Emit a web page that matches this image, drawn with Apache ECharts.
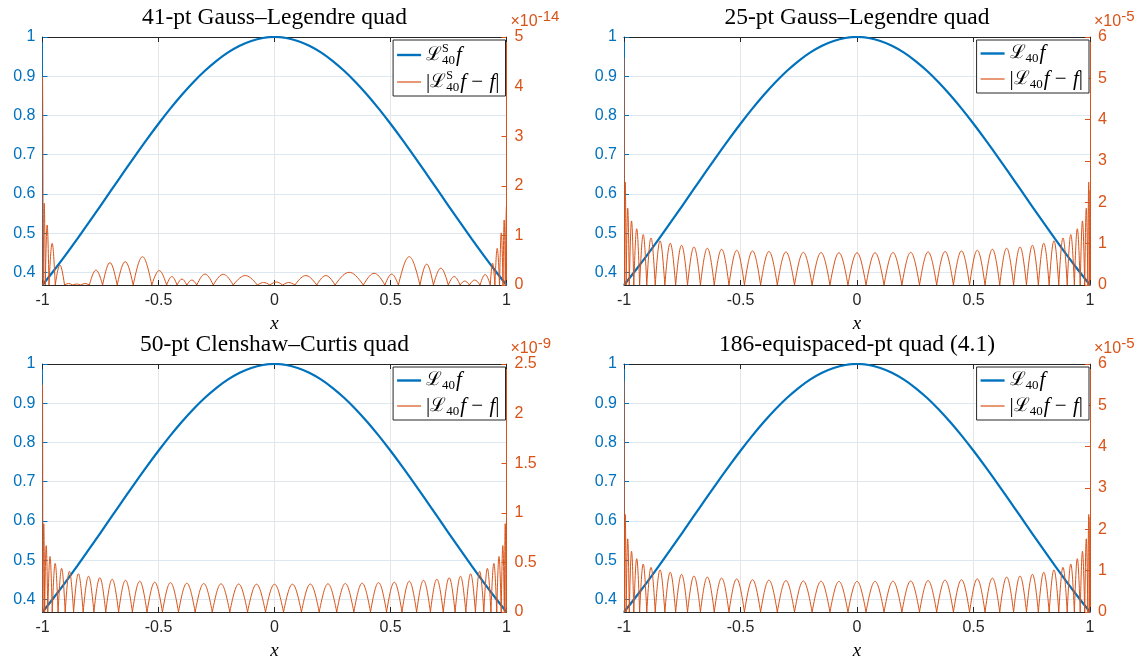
<!DOCTYPE html>
<html><head><meta charset="utf-8">
<script src="https://cdn.jsdelivr.net/npm/echarts@6/dist/echarts.min.js"></script>
<style>html,body{margin:0;padding:0;background:#fff}#c{width:1141px;height:661px}</style>
</head><body><div id="c"></div>
<script>
// ---------------- data ----------------
const xs = [-1,-0.95,-0.9,-0.85,-0.8,-0.75,-0.7,-0.65,-0.6,-0.55,-0.5,-0.45,-0.4,-0.35,-0.3,-0.25,-0.2,-0.15,-0.1,-0.05,0,
            0.05,0.1,0.15,0.2,0.25,0.3,0.35,0.4,0.45,0.5,0.55,0.6,0.65,0.7,0.75,0.8,0.85,0.9,0.95,1];
const fVals = [0.3679,0.4056,0.4449,0.4855,0.5273,0.5698,0.6126,0.6554,0.6977,0.7390,0.7788,0.8167,0.8521,0.8847,0.9139,0.9394,0.9608,0.9778,0.9900,0.9975,1.0000,
               0.9975,0.9900,0.9778,0.9608,0.9394,0.9139,0.8847,0.8521,0.8167,0.7788,0.7390,0.6977,0.6554,0.6126,0.5698,0.5273,0.4855,0.4449,0.4056,0.3679];

const titles = ['41-pt Gauss\u2013Legendre quad','25-pt Gauss\u2013Legendre quad','50-pt Clenshaw\u2013Curtis quad','186-equispaced-pt quad (4.1)'];
const xTickStep = 0.5;
const rightMax = [5, 6, 2.5, 6];
const rightStep = [1, 1, 0.5, 1];
const rightExp = ['-14', '-5', '-9', '-5'];

// zero crossings of the error curve (panel 1, round-off pattern)
const tlNodes = [-0.997,-0.988,-0.972,-0.945,-0.905,-0.87,-0.835,-0.798,-0.741,-0.678,-0.609,-0.529,-0.465,-0.42,-0.378,-0.335,-0.264,-0.178,-0.074,-0.02,
                 0.035,0.088,0.182,0.261,0.383,0.476,0.534,0.627,0.685,0.749,0.80,0.84,0.886,0.93,0.95,0.97,0.985,0.995];
const tlPeaks = [1.65,1.21,0.84,0.40,0.03,0.02,0.03,0.30,0.45,0.47,0.57,0.29,0.17,0.12,0.10,0.22,0.215,0.19,0.05,0.06,
                 0.05,0.19,0.19,0.255,0.235,0.22,0.57,0.42,0.34,0.17,0.08,0.10,0.21,0.44,0.74,1.05,1.31];
const tlEnds = [4.2, 1.6];

// zero crossings of the error curve (panels 2-4)
const nodes40 = [-0.9983,-0.9908,-0.9773,-0.9580,-0.9329,-0.9022,-0.8660,-0.8247,-0.7784,-0.7274,-0.6720,-0.6126,-0.5495,-0.4831,-0.4138,-0.3420,-0.2682,-0.1927,-0.1161,-0.0388,
                 0.0388,0.1161,0.1927,0.2682,0.3420,0.4138,0.4831,0.5495,0.6126,0.6720,0.7274,0.7784,0.8247,0.8660,0.9022,0.9329,0.9580,0.9773,0.9908,0.9983];
const trPeaks = [2.49,1.86,1.55,1.36,1.22,1.14,1.07,1.01,0.96,0.92,0.89,0.865,0.84,0.825,0.81,0.80,0.79,0.785,0.78,0.78,
                 0.78,0.785,0.79,0.80,0.81,0.825,0.84,0.865,0.89,0.92,0.96,1.01,1.07,1.14,1.22,1.36,1.55,1.86,2.49];
const trEnds = [5.5, 2.3];
const blPeaks = [0.89,0.67,0.56,0.49,0.44,0.41,0.385,0.36,0.345,0.33,0.32,0.31,0.30,0.296,0.29,0.287,0.284,0.282,0.28,0.28,
                 0.28,0.282,0.284,0.287,0.29,0.296,0.30,0.31,0.32,0.33,0.345,0.36,0.385,0.41,0.44,0.49,0.56,0.67,0.89];
const blEnds = [2.29, 0.95];
const brPeaks = [2.36,1.77,1.47,1.29,1.16,1.08,1.02,0.96,0.91,0.87,0.845,0.82,0.80,0.78,0.77,0.76,0.75,0.745,0.74,0.74,
                 0.74,0.745,0.75,0.76,0.77,0.78,0.80,0.82,0.845,0.87,0.91,0.96,1.02,1.08,1.16,1.29,1.47,1.77,2.36];
const brEnds = [5.6, 2.3];

const seriesNames = [['LSf','LSerr'],['Lf','Lerr'],['Lf','Lerr'],['Lf','Lerr']];
const legendText = {
  LSf: '{L|\u2112}{S|S}{n|40}{f|f}',
  LSerr: '{t||}{L|\u2112}{S|S}{n|40}{f|f}{t| \u2212 }{f|f}{t||}',
  Lf: '{L|\u2112}{n|40}{f|f}',
  Lerr: '{t||}{L|\u2112}{n|40}{f|f}{t| \u2212 }{f|f}{t||}'
};

// ---------------- build ----------------
const BLUE = '#0072BD', ORANGE = '#D95319', DARK = '#262626';
function arches(nodes, peaks, ends) {
  const b = [-1, ...nodes, 1];
  const out = [[b[0], b[1], ends[0], 1]];
  for (let k = 0; k < peaks.length; k++) out.push([b[k + 1], b[k + 2], peaks[k], 0]);
  out.push([b[b.length - 2], b[b.length - 1], ends[1], 2]);
  return out;
}
const errData = [arches(tlNodes, tlPeaks, tlEnds), arches(nodes40, trPeaks, trEnds),
                 arches(nodes40, blPeaks, blEnds), arches(nodes40, brPeaks, brEnds)];

function renderArch(params, api) {
  const x0 = api.value(0), x1 = api.value(1), h = api.value(2), kind = api.value(3);
  const a = api.coord([x0, 0]), b = api.coord([x1, 0]), t = api.coord([x0, h]);
  const w = b[0] - a[0], y0 = a[1], H = y0 - t[1];
  let d;
  if (kind === 0) {
    const cy = y0 - H * 4 / 3;
    d = 'M' + a[0] + ',' + y0 + 'C' + (a[0] + 0.4244 * w) + ',' + cy + ' ' + (a[0] + 0.5756 * w) + ',' + cy + ' ' + b[0] + ',' + y0;
  } else if (kind === 1) {
    d = 'M' + a[0] + ',' + t[1] + 'C' + (a[0] + 0.352 * w) + ',' + t[1] + ' ' + (a[0] + 0.648 * w) + ',' + (y0 - 0.553 * H) + ' ' + b[0] + ',' + y0;
  } else {
    d = 'M' + a[0] + ',' + y0 + 'C' + (a[0] + 0.352 * w) + ',' + (y0 - 0.553 * H) + ' ' + (a[0] + 0.648 * w) + ',' + t[1] + ' ' + b[0] + ',' + t[1];
  }
  return { type: 'path', shape: { pathData: d }, style: { stroke: ORANGE, fill: 'none', lineWidth: 1 } };
}

const grids = [
  { left: 42.5, top: 37, width: 464, height: 248 },
  { left: 624, top: 37, width: 466, height: 248 },
  { left: 42.5, top: 364, width: 464, height: 249 },
  { left: 624, top: 364, width: 466, height: 249 }
];
const titleSize = 23.5;
const mctx = document.createElement('canvas').getContext('2d');
mctx.font = titleSize + 'px "Liberation Serif"';

const option = { animation: false, backgroundColor: '#fff', grid: grids, xAxis: [], yAxis: [], series: [], title: [], legend: [] };
const lblFont = 'Liberation Sans';
for (let i = 0; i < 4; i++) {
  const g = grids[i];
  const cx = g.left + g.width / 2;
  const tw = mctx.measureText(titles[i]).width;
  option.title.push({ text: titles[i], left: cx - tw / 2, top: g.top - 31, padding: 0,
    textStyle: { fontFamily: 'Liberation Serif', fontSize: titleSize, fontWeight: 'normal', color: '#000' } });
  option.xAxis.push({ type: 'value', gridIndex: i, min: -1, max: 1, interval: xTickStep, position: 'bottom',
    axisLine: { show: true, onZero: false, lineStyle: { color: DARK, width: 1 } },
    axisTick: { show: true, inside: true, length: 5, lineStyle: { color: DARK } },
    axisLabel: { color: DARK, fontFamily: lblFont, fontSize: 16, margin: 8 },
    splitLine: { show: true, lineStyle: { color: '#e6e6e6', width: 1 } },
    name: 'x', nameLocation: 'middle', nameGap: 29,
    nameTextStyle: { fontFamily: 'Liberation Serif', fontStyle: 'italic', fontSize: 19, color: '#000' } });
  option.xAxis.push({ type: 'value', gridIndex: i, min: -1, max: 1, interval: xTickStep, position: 'top',
    axisLine: { show: true, onZero: false, lineStyle: { color: DARK, width: 1 } },
    axisTick: { show: true, inside: true, length: 5, lineStyle: { color: DARK } },
    axisLabel: { show: false }, splitLine: { show: false } });
  option.yAxis.push({ type: 'value', gridIndex: i, min: 0.3679, max: 1, splitNumber: 6, position: 'left',
    axisLine: { show: true, onZero: false, lineStyle: { color: BLUE, width: 1 } },
    axisTick: { show: true, inside: true, length: 5, lineStyle: { color: BLUE } },
    axisLabel: { color: BLUE, fontFamily: lblFont, fontSize: 16, margin: 7, showMinLabel: false },
    splitLine: { show: true, lineStyle: { color: '#dde7f0', width: 1 } } });
  option.yAxis.push({ type: 'value', gridIndex: i, min: 0, max: rightMax[i], interval: rightStep[i], position: 'right',
    axisLine: { show: true, onZero: false, lineStyle: { color: ORANGE, width: 1 } },
    axisTick: { show: true, inside: true, length: 5, lineStyle: { color: ORANGE } },
    axisLabel: { color: ORANGE, fontFamily: lblFont, fontSize: 16, margin: 8 },
    splitLine: { show: false },
    name: '{a|\u00d710}{b|' + rightExp[i] + '}', nameLocation: 'end', nameGap: 2,
    nameTextStyle: { align: 'left', color: ORANGE,
      rich: { a: { fontFamily: lblFont, fontSize: 16, lineHeight: 15, padding: [9, 0, 0, 4], color: ORANGE },
              b: { fontFamily: lblFont, fontSize: 15, lineHeight: 14, verticalAlign: 'top', color: ORANGE } } } });
  option.series.push({ type: 'line', name: seriesNames[i][0], xAxisIndex: 2 * i, yAxisIndex: 2 * i,
    data: xs.map((x, k) => [x, fVals[k]]), symbol: 'none', showSymbol: false, smooth: 0.3,
    lineStyle: { color: BLUE, width: 2.2 }, itemStyle: { color: BLUE }, z: 2 });
  option.series.push({ type: 'custom', name: seriesNames[i][1], xAxisIndex: 2 * i, yAxisIndex: 2 * i + 1,
    data: errData[i], renderItem: renderArch, encode: { x: [0, 1], y: 2 }, clip: true,
    itemStyle: { color: ORANGE }, z: 3 });
  option.legend.push({ orient: 'vertical', right: 1141 - (g.left + g.width) + 1, top: g.top + 3,
    backgroundColor: '#fff', borderColor: DARK, borderWidth: 1, borderRadius: 0, padding: [3, 6, 2, 4],
    itemGap: 3, itemWidth: 24, itemHeight: 14, selectedMode: false,
    data: [{ name: seriesNames[i][0], icon: 'path://M0,0H24V2.4H0Z', itemStyle: { color: BLUE } },
           { name: seriesNames[i][1], icon: 'path://M0,0H24V1.2H0Z', itemStyle: { color: ORANGE } }],
    formatter: n => legendText[n],
    textStyle: { color: '#000', fontFamily: 'Liberation Serif', fontSize: 20,
      rich: {
        L: { fontFamily: 'DejaVu Serif', fontSize: 19, lineHeight: 24, color: '#000' },
        S: { fontFamily: 'Liberation Serif', fontSize: 12, lineHeight: 12, verticalAlign: 'top', width: 0, color: '#000' },
        n: { fontFamily: 'Liberation Serif', fontSize: 13, lineHeight: 13, verticalAlign: 'bottom', color: '#000' },
        f: { fontFamily: 'Liberation Serif', fontStyle: 'italic', fontSize: 21, lineHeight: 24, padding: [0, 0, 0, 1], color: '#000' },
        t: { fontFamily: 'Liberation Serif', fontSize: 21, lineHeight: 24, color: '#000' }
      } } });
}
const chart = echarts.init(document.getElementById('c'), null, { renderer: 'canvas' });
chart.setOption(option);
</script></body></html>
